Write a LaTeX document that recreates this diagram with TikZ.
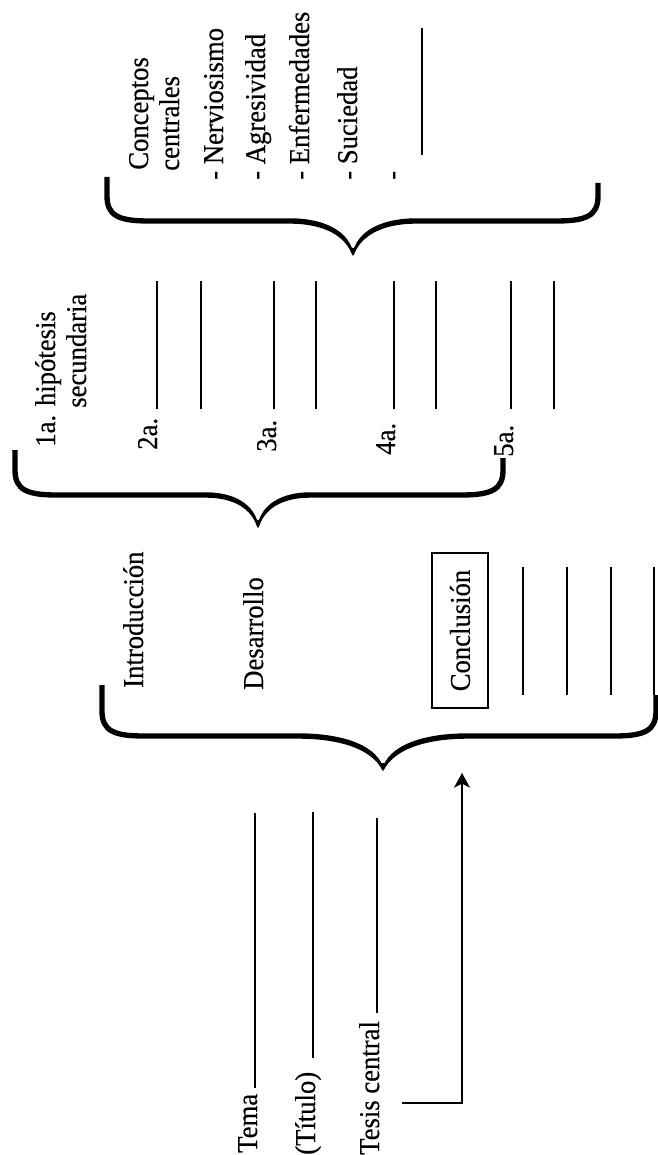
\documentclass[tikz,border=0pt]{standalone}
\usepackage{fontspec}
\setmainfont{Liberation Serif}[FakeStretch=0.93,FakeBold=0.4]
\usetikzlibrary{arrows.meta}
\newcommand\drawbrace[8]{%
  % #1 L, #2 yL, #3 R, #4 yR, #5 H, #6 tip x, #7 tip y, #8 curve reach
  \draw[bracestroke] (#1,#2) -- (#1,#5-25) .. controls (#1,#5-5) and (#1+12,#5) .. (#1+42,#5) -- (#6-#8,#5);
  \draw[bracestroke] (#3,#4) -- (#3,#5-25) .. controls (#3,#5-5) and (#3-12,#5) .. (#3-42,#5) -- (#6+#8,#5);
  \fill (#6-#8,#5-2.7) .. controls (#6-0.45*#8,#5-2.7) and (#6-0.05*#8,#5+0.3*#7-0.3*#5) .. (#6+0.8,#7)
     -- (#6-0.8,#7) .. controls (#6-0.12*#8,#5+0.45*#7-0.45*#5) and (#6-0.45*#8,#5+2.7) .. (#6-#8,#5+2.7) -- cycle;
  \fill (#6+#8,#5-2.7) .. controls (#6+0.45*#8,#5-2.7) and (#6+0.05*#8,#5+0.3*#7-0.3*#5) .. (#6-0.8,#7)
     -- (#6+0.8,#7) .. controls (#6+0.12*#8,#5+0.45*#7-0.45*#5) and (#6+0.45*#8,#5+2.7) .. (#6+#8,#5+2.7) -- cycle;
  \fill (#6-3.5,#7-7) -- (#6+3.5,#7-7) -- (#6,#7+1) -- cycle;
}
\begin{document}
\begin{tikzpicture}[x=0.75pt,y=-0.75pt,
  lbl/.style={rotate=90,anchor=base west,inner sep=0pt,font=\fontsize{21.5}{26}\selectfont},
  blank/.style={line width=1.2pt},
  bracestroke/.style={line width=4pt},
  boxed/.style={draw,rotate=90,line width=1pt,inner sep=0pt,minimum width=116.25pt,minimum height=42pt,font=\fontsize{21.5}{26}\selectfont}]
\useasboundingbox (0,0) rectangle (657,1155);

% --- top group: central concepts
\node[lbl] (conc1) at (148,170) {Conceptos};
\node[lbl] (conc2) at (179,171) {centrales};
\node[lbl] (c1) at (223,180) {- Nerviosismo};
\node[lbl] (c2) at (265,180) {- Agresividad};
\node[lbl] (c3) at (309,180) {- Enfermedades};
\node[lbl] (c4) at (357,180) {- Suciedad};
\node[lbl] (c5) at (401,180) {-};
\coordinate (c6a) at (422,155);
\coordinate (c6b) at (422,28);
\draw[blank] (c6a) -- (c6b);
\drawbrace{107}{177}{598}{183}{221}{353}{255}{63}

% --- middle group: secondary hypotheses
\node[lbl] (h1) at (55,447) {1a. hipótesis};
\node[lbl] (h1b) at (86,408) {secundaria};
\node[lbl] (h2) at (157,450) {2a.};
\node[lbl] (h3) at (276,452) {3a.};
\node[lbl] (h4) at (395,455) {4a.};
\node[lbl] (h5) at (513,457) {5a.};
\foreach \xx in {157,201,274,316,394,436,511,554}
  \draw[blank] (\xx,409) -- (\xx,281);
\drawbrace{15}{450}{503}{458}{495}{258}{527}{52}

% --- lower group: structure
\node[lbl] (intro) at (143,688) {Introducción};
\node[lbl] (desa) at (263,690) {Desarrollo};
\node[boxed] (concl) at (460,630.5) {Conclusión};
\foreach \xx in {523,567,611,654}
  \draw[blank] (\xx,695) -- (\xx,567);
\drawbrace{102}{685}{656}{695}{736}{383}{770}{85}

% --- bottom group
\node[lbl] (tema) at (257,1153) {Tema};
\node[lbl] (titulo) at (315,1155) {(Título)};
\node[lbl] (tesis) at (379,1155) {Tesis central};
\draw[blank] (255,1088) -- (255,813);
\draw[blank] (313,1058) -- (313,812);
\draw[blank] (377,1013) -- (377,818);

\coordinate (arrS) at (402,1103);
\coordinate (arrC) at (462,1103);
\coordinate (arrE) at (462,773);
\draw[line width=1.1pt,-{Stealth[length=11pt,width=12pt,inset=3pt]}] (arrS) -- (arrC) -- (arrE);
\end{tikzpicture}
\end{document}
